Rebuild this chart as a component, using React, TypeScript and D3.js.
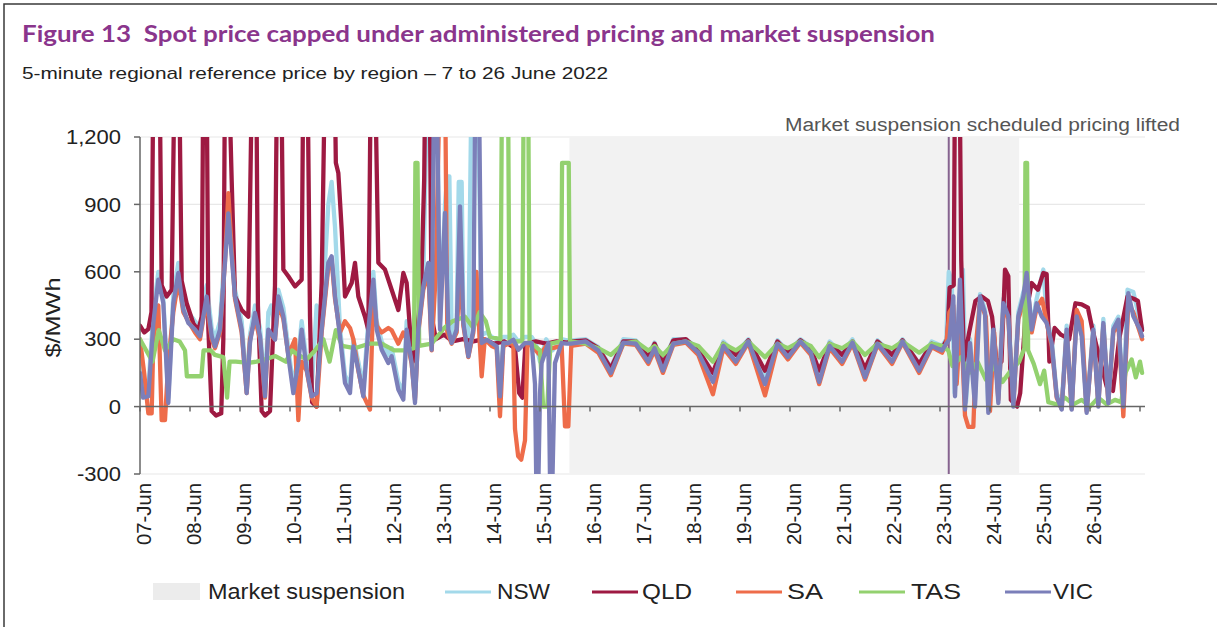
import React from 'react';
import * as d3 from 'd3';

type P = [number, number];

// hours since 7 Jun 2022 00:00, value in $/MWh
const dayLabels = ['07-Jun','08-Jun','09-Jun','10-Jun','11-Jun','12-Jun','13-Jun','14-Jun','15-Jun','16-Jun','17-Jun','18-Jun','19-Jun','20-Jun','21-Jun','22-Jun','23-Jun','24-Jun','25-Jun','26-Jun'];
const yTickValues = [-300, 0, 300, 600, 900, 1200];
const yTickLabels = ['-300', '0', '300', '600', '900', '1,200'];
const gridValues = [-300, 300, 600, 900, 1200];
const suspensionStart = 206.1;
const suspensionEnd = 422;
const pricingLifted = 388.2;

const nswData: P[] = [
[0,200],[1.5,60],[4,80],[6.4,420],[8.8,600],[11.2,480],[13.6,40],[16,500],[18.4,640],[20.8,470],[23.2,420],[26.4,380],[28.8,350],[30.4,450],[32,540],[34.4,350],[36,300],[38.4,380],[40.8,700],[42.4,800],[44,700],[45.6,520],[48.8,380],[51.2,90],[52.8,320],[55.2,450],[57.6,350],[60,80],[61.6,420],[63,450],[64.8,340],[66.4,520],[68.8,440],[71.2,260],[73.6,90],[76,230],[77.6,380],[80,200],[82.4,80],[84.8,450],[87.2,380],[90.4,900],[92,1000],[93.6,800],[96,350],[98.4,140],[100.8,90],[102.4,300],[104.8,200],[107.2,80],[109.6,380],[112,600],[113.6,380],[116,290],[119.2,230],[120.8,260],[124,110],[126.4,60],[128,380],[130.4,230],[132,40],[133.6,380],[136,570],[138,1500],[142.4,1500],[144,380],[146.4,900],[147.5,1025],[148.5,1025],[149.6,320],[152,380],[153,1000],[154.4,1000],[155.2,400],[157.6,260],[159.2,1500],[162,1500],[164,320],[166.4,330],[168.8,310],[171.2,300],[172.8,80],[174.4,310],[176.8,310],[179.2,320],[181.6,290],[184.8,310],[188,310],[190,280],[192,200],[195,300],[198,250],[202.4,300],[205,295],
[207,295],[214,300],[220,265],[226,175],[232,300],[238,295],[244,230],[247,285],[251,195],[256,300],[262,300],[268,260],[275,140],[280,290],[286,235],[292,300],[300,140],[306,295],[311,245],[317,300],[322,265],[326,140],[331,290],[337,235],[342,300],[348,160],[354,295],[361,235],[366,300],[374,190],[380,290],[385,270],
[387,300],[388.2,600],[389.6,560],[391,60],[393.6,520],[395,610],[396.5,20],[398.4,300],[400.8,30],[403.2,500],[405.6,430],[407.2,-10],[409.6,360],[412,40],[414.4,480],[416.8,420],[419.2,20],[421.6,420],[424,510],[425.6,560],[428,360],[430.4,480],[433.6,610],[435.2,400],[437.6,300],[440,60],[442.4,10],[444.8,360],[447.2,0],[449.6,420],[452,340],[454.4,-10],[457.6,360],[460,20],[462.4,390],[464.8,30],[467.2,360],[469.6,400],[472,20],[474,520],[476.8,510],[480,380],[481,350]
];

const qldData: P[] = [
[0,360],[2,330],[4,345],[5.5,420],[6.4,1500],[9.4,1500],[10.4,540],[12.8,490],[15.2,520],[16.6,1500],[18.8,1500],[19.4,1010],[20,560],[22.4,460],[25.6,370],[28,340],[29.6,400],[30.4,1500],[32,1500],[32.8,350],[34.4,-20],[36.5,-40],[39,-30],[40,300],[40.8,1500],[42.6,1500],[44,1010],[45.6,490],[48.8,430],[52,400],[53.8,1500],[55.8,1500],[56.6,450],[58.4,-20],[60,-40],[62.4,-20],[64.8,540],[65.8,1500],[67.8,1500],[68.8,610],[71.2,580],[74.4,535],[77.6,565],[78.4,1500],[80.4,1500],[81.6,400],[82.6,20],[84.8,0],[87.2,550],[88.8,1500],[93.4,1500],[94,1085],[95.2,1040],[96.8,790],[98.4,490],[101.6,550],[103.2,640],[104.8,490],[108,400],[109.6,340],[110.8,1500],[112.8,1500],[114.4,640],[117.6,610],[120.8,520],[124,430],[126.4,595],[128,550],[129.6,340],[131,200],[133,330],[135,540],[136.4,1010],[137,1500],[139,1500],[140,400],[142,300],[146,320],[150,290],[155,300],[160,290],[165,300],[170,280],[175,290],[180,260],[182,60],[183.5,40],[185,280],[190,290],[195,280],[200,290],[205,285],
[207,290],[214,295],[220,260],[226,170],[232,290],[238,290],[244,220],[247,280],[251,190],[256,295],[262,300],[268,250],[275,150],[280,280],[286,230],[292,295],[300,160],[306,290],[311,240],[317,295],[322,260],[326,160],[331,280],[337,230],[342,290],[348,170],[354,290],[361,230],[366,295],[374,190],[380,280],[385,260],
[387.5,300],[388.6,530],[390.6,540],[391.2,1500],[393.4,1500],[394.2,650],[395.5,200],[398,330],[401,470],[404,490],[407,470],[409,400],[411,210],[413.5,200],[415.2,610],[416.8,580],[418,30],[421,0],[422.5,60],[425,400],[428,550],[431,520],[433.6,595],[435.2,590],[436.5,200],[439,350],[442,320],[446,300],[449,460],[452,455],[455,440],[457,350],[461,200],[464,90],[467,70],[470,300],[474,490],[477,480],[479,470],[481,340]
];

const saData: P[] = [
[0,300],[2,150],[4,-30],[5.6,-30],[6.4,300],[8.8,450],[10.4,-60],[12,-60],[13.6,200],[16,420],[18.4,560],[20.8,420],[23.2,380],[26.4,330],[28.8,300],[30.4,390],[32,460],[34.4,300],[36,260],[38.4,330],[40.8,650],[42.4,950],[44,700],[45.6,480],[48.8,330],[51.2,60],[52.8,300],[55.2,390],[57.6,300],[60,40],[61.6,330],[64.8,300],[66.4,460],[68.8,390],[71.2,230],[74.4,300],[76,-60],[77.6,200],[80,160],[82.4,40],[84.8,0],[87.2,330],[90.4,620],[92,650],[93.6,480],[96,330],[98.4,380],[100.8,350],[102.4,300],[104.8,160],[107.2,50],[110.4,-13],[112,500],[113.6,360],[116,330],[119.2,350],[120.8,340],[124,280],[126.4,330],[128,300],[130.4,190],[132,30],[133.6,330],[136,520],[138.4,600],[140,250],[142,600],[144,1500],[146.4,1500],[147.5,330],[149.6,280],[152,330],[153.6,600],[155.2,360],[157.6,220],[160,330],[161.5,600],[163,300],[164,135],[165.5,300],[168.8,270],[171.2,260],[172.8,-43],[174.4,270],[176.8,280],[179.2,280],[180,-100],[181.5,-220],[183,-236],[184.8,-150],[186,280],[188,270],[190,250],[192,230],[195,270],[198,260],[202.4,270],[204,-88],[205.6,-88],
[207,270],[214,280],[220,240],[226,140],[232,280],[238,275],[244,190],[247,250],[251,150],[256,275],[262,285],[268,230],[275,55],[280,260],[286,190],[292,285],[300,50],[306,270],[311,210],[317,285],[322,230],[326,100],[331,260],[337,190],[342,280],[348,120],[354,275],[361,190],[366,285],[374,150],[380,265],[385,240],
[387,280],[388.5,420],[390.4,450],[392,100],[394,400],[396,-40],[397.6,-90],[400,-90],[401.5,300],[403.2,470],[406,400],[408,-20],[410,330],[412,30],[414.4,440],[416.8,390],[419.2,10],[421.6,390],[424,460],[426,540],[428,330],[430.4,440],[433,480],[435.5,360],[437.6,270],[440,40],[442.4,-10],[444.8,330],[447.2,-10],[449.6,430],[452,380],[454.4,-20],[457.6,330],[460,10],[462.4,360],[464.8,20],[467.2,330],[469.6,370],[472,-43],[474.4,460],[476.8,420],[480,330],[481,300]
];

const tasData: P[] = [
[0,300],[3,250],[6,200],[9,340],[12,250],[16,300],[19,290],[21.6,250],[22.5,135],[29.5,135],[30.5,250],[34,250],[36,230],[40,220],[41.8,40],[43,200],[46,200],[52,195],[56,200],[60,210],[65,225],[70,200],[73,250],[76,230],[80,210],[84,250],[88,300],[91,200],[94,340],[97,270],[103,260],[110,280],[116,280],[122,250],[127,250],[131.5,260],[132.2,1085],[133.2,1085],[134,270],[140,280],[146,350],[150,380],[156,400],[160,350],[163,420],[166,380],[168,310],[173,300],[173.8,1500],[176.6,1500],[177.4,290],[183.5,290],[184.2,1500],[186.3,1500],[187,290],[192,250],[193.5,0],[195.5,0],[197,280],[202,290],[202.6,1085],[205.8,1085],[206.4,290],
[207,290],[214,280],[220,260],[226,230],[232,280],[238,290],[244,250],[247,270],[251,230],[256,280],[262,290],[268,270],[275,200],[280,280],[286,250],[292,290],[300,220],[306,280],[311,260],[317,290],[322,270],[326,220],[331,280],[337,260],[342,290],[348,230],[354,280],[361,260],[366,290],[374,240],[380,280],[385,270],
[388,250],[390,180],[394,220],[398,150],[402,200],[406,120],[410,180],[414,110],[418,160],[422,200],[424.5,260],[425,1085],[425.8,1085],[426.3,250],[429,190],[432,100],[434,160],[436,20],[440,10],[444,40],[448,10],[452,30],[456,0],[460,40],[464,10],[468,30],[471,20],[473,150],[476,210],[478,130],[480,200],[481,150]
];

const vicData: P[] = [
[0,150],[1.5,40],[4,46],[6.4,372],[8.8,565],[11.2,460],[13.6,16],[16,460],[18.4,595],[20.8,432],[23.2,372],[26.4,343],[28.8,313],[30.4,402],[32,490],[34.4,313],[36,268],[38.4,343],[40.8,640],[42.4,860],[44,669],[45.6,490],[48.8,343],[51.2,60],[52.8,283],[55.2,417],[57.6,313],[60,46],[61.6,343],[64.8,298],[66.4,490],[68.8,402],[71.2,224],[73.6,60],[76,194],[77.6,343],[80,165],[82.4,46],[84.8,60],[87.2,343],[90.4,640],[92,669],[93.6,490],[96,313],[98.4,105],[100.8,60],[102.4,268],[104.8,165],[107.2,46],[109.6,343],[112,565],[113.6,343],[116,253],[119.2,194],[120.8,224],[124,76],[126.4,31],[128,343],[130.4,194],[132,16],[133.6,343],[136,535],[138.4,640],[140,253],[141.2,1500],[142.4,1500],[144,343],[146.4,862],[148,343],[149.6,283],[152,343],[153.6,891],[155.2,372],[157.6,224],[160,343],[161,1500],[162.6,1500],[164,283],[166.4,298],[168.8,283],[171.2,268],[172.8,46],[174.4,283],[176.8,283],[179.2,298],[181.6,253],[184.8,283],[188,283],[189.6,100],[190.3,-400],[191.1,-400],[192,60],[192.8,194],[196,283],[196.9,-400],[197.8,-400],[199.2,194],[202.4,283],[205,280],
[207,280],[214,290],[220,250],[226,150],[232,285],[238,280],[244,200],[247,260],[251,160],[256,280],[262,290],[268,240],[275,110],[280,270],[286,200],[292,290],[300,100],[306,280],[311,220],[317,290],[322,240],[326,110],[331,270],[337,200],[342,285],[348,130],[354,280],[361,200],[366,290],[374,160],[380,270],[385,250],
[387,280],[388.5,300],[390.4,490],[391.2,46],[393.6,565],[396,-13],[398.4,283],[400.8,0],[403.2,490],[405.6,417],[407.2,-28],[409.6,343],[412,16],[414.4,460],[416.8,402],[419.2,0],[421.6,402],[424,490],[425.6,595],[428,343],[430.4,460],[432.8,402],[435.2,372],[437.6,283],[440,46],[442.4,-13],[444.8,343],[447.2,-13],[449.6,402],[452,313],[454.4,-28],[457.6,343],[460,0],[462.4,372],[464.8,16],[467.2,343],[469.6,387],[472,0],[474.4,505],[476.8,402],[480,343],[481,313]
];

const seriesNames = ['NSW', 'QLD', 'SA', 'TAS', 'VIC'];
const seriesColors = ['#a3d9ea', '#9e1a42', '#ee6c4a', '#93d16f', '#7b7fb9'];
const seriesData = [nswData, qldData, saData, tasData, vicData];

const W = 1217, H = 627;
const PL = 140, PR = 1145, PT = 137, PB = 474;
const FONT = "'Liberation Sans', Arial, sans-serif";

export default function App() {
  const x = d3.scaleLinear().domain([0, 480]).range([140, 1140]);
  const y = d3.scaleLinear().domain([-300, 1200]).range([PB, PT]);
  const line = d3.line<P>().x(d => x(d[0])).y(d => y(d[1]));
  const days = d3.range(0, 21);

  const legendItems = [
    { name: 'NSW', lx: 445, tx: 497, tl: 53 },
    { name: 'QLD', lx: 592, tx: 642, tl: 50 },
    { name: 'SA', lx: 736, tx: 787, tl: 36 },
    { name: 'TAS', lx: 859, tx: 911, tl: 50 },
    { name: 'VIC', lx: 1005, tx: 1053, tl: 40 },
  ];

  return (
    <svg width={W} height={H} style={{ position: 'absolute', left: 0, top: 0 }} fontFamily={FONT}>
      <rect width={W} height={H} fill="#fff" />
      <path d={`M4,${H} V4 H${W}`} fill="none" stroke="#3a3a3a" strokeWidth={1.5} />
      <defs>
        <clipPath id="plotClip">
          <rect x={PL} y={PT} width={PR - PL + 2} height={PB - PT} />
        </clipPath>
      </defs>

      <text x={22} y={42} xmlSpace="preserve" style={{ whiteSpace: 'pre' }} fontFamily="Lato, 'Open Sans', sans-serif" fontWeight="bold" fontSize={22} fill="#8a358c" textLength={913} lengthAdjust="spacingAndGlyphs">
        {'Figure 13  Spot price capped under administered pricing and market suspension'}
      </text>
      <text x={22} y={79} fontSize={17} fill="#222" textLength={586} lengthAdjust="spacingAndGlyphs">
        5-minute regional reference price by region – 7 to 26 June 2022
      </text>

      {gridValues.map(v => (
        <line key={v} x1={PL} x2={PR} y1={y(v)} y2={y(v)} stroke="#e8e8e8" strokeWidth={1.2} />
      ))}
      <rect x={x(suspensionStart)} y={PT} width={x(suspensionEnd) - x(suspensionStart)} height={PB - PT} fill="#f2f2f2" />
      <line x1={x(pricingLifted)} x2={x(pricingLifted)} y1={PT} y2={PB} stroke="#86638f" strokeWidth={2} />

      <g clipPath="url(#plotClip)">
        {seriesData.map((data, i) => (
          <path key={seriesNames[i]} d={line(data) || ''} fill="none" stroke={seriesColors[i]} strokeWidth={4.3} strokeLinejoin="round" strokeLinecap="round" />
        ))}
      </g>

      <text x={1180} y={131} textAnchor="end" fontSize={18} fill="#555" textLength={395} lengthAdjust="spacingAndGlyphs">
        Market suspension scheduled pricing lifted
      </text>

      {/* y axis */}
      <line x1={PL} x2={PL} y1={PT} y2={PB} stroke="#666" strokeWidth={1.5} />
      {yTickValues.map((v, i) => (
        <g key={v}>
          <line x1={PL - 6} x2={PL} y1={y(v)} y2={y(v)} stroke="#666" strokeWidth={1.5} />
          <text transform={`translate(121,${y(v)}) scale(1.1,1)`} textAnchor="end" dy="0.36em" fontSize={20} fill="#222">
            {yTickLabels[i]}
          </text>
        </g>
      ))}
      <text transform={`translate(52,${(PT + PB) / 2 + 12}) rotate(-90)`} textAnchor="middle" dy="0.36em" fontSize={21} fill="#222" textLength={80} lengthAdjust="spacingAndGlyphs">
        $/MWh
      </text>

      {/* x axis at zero */}
      <line x1={PL} x2={PR} y1={y(0)} y2={y(0)} stroke="#666" strokeWidth={1.5} />
      {days.map(d => (
        <line key={d} x1={x(d * 24)} x2={x(d * 24)} y1={y(0)} y2={y(0) + 5} stroke="#666" strokeWidth={1.5} />
      ))}
      {dayLabels.map((lab, d) => (
        <text key={lab} transform={`translate(${x(d * 24) + 4},483) rotate(-90)`} textAnchor="end" dy="0.36em" fontSize={20} fill="#222" textLength={62} lengthAdjust="spacingAndGlyphs">
          {lab}
        </text>
      ))}

      {/* legend */}
      <rect x={153} y={583} width={47} height={17} fill="#ececec" />
      <text x={208} y={599} fontSize={22} fill="#222" textLength={197} lengthAdjust="spacingAndGlyphs">Market suspension</text>
      {legendItems.map((it, i) => (
        <g key={it.name}>
          <line x1={it.lx} x2={it.lx + 46} y1={592} y2={592} stroke={seriesColors[i]} strokeWidth={3} />
          <text x={it.tx} y={599} fontSize={22} fill="#222" textLength={it.tl} lengthAdjust="spacingAndGlyphs">{it.name}</text>
        </g>
      ))}
    </svg>
  );
}
